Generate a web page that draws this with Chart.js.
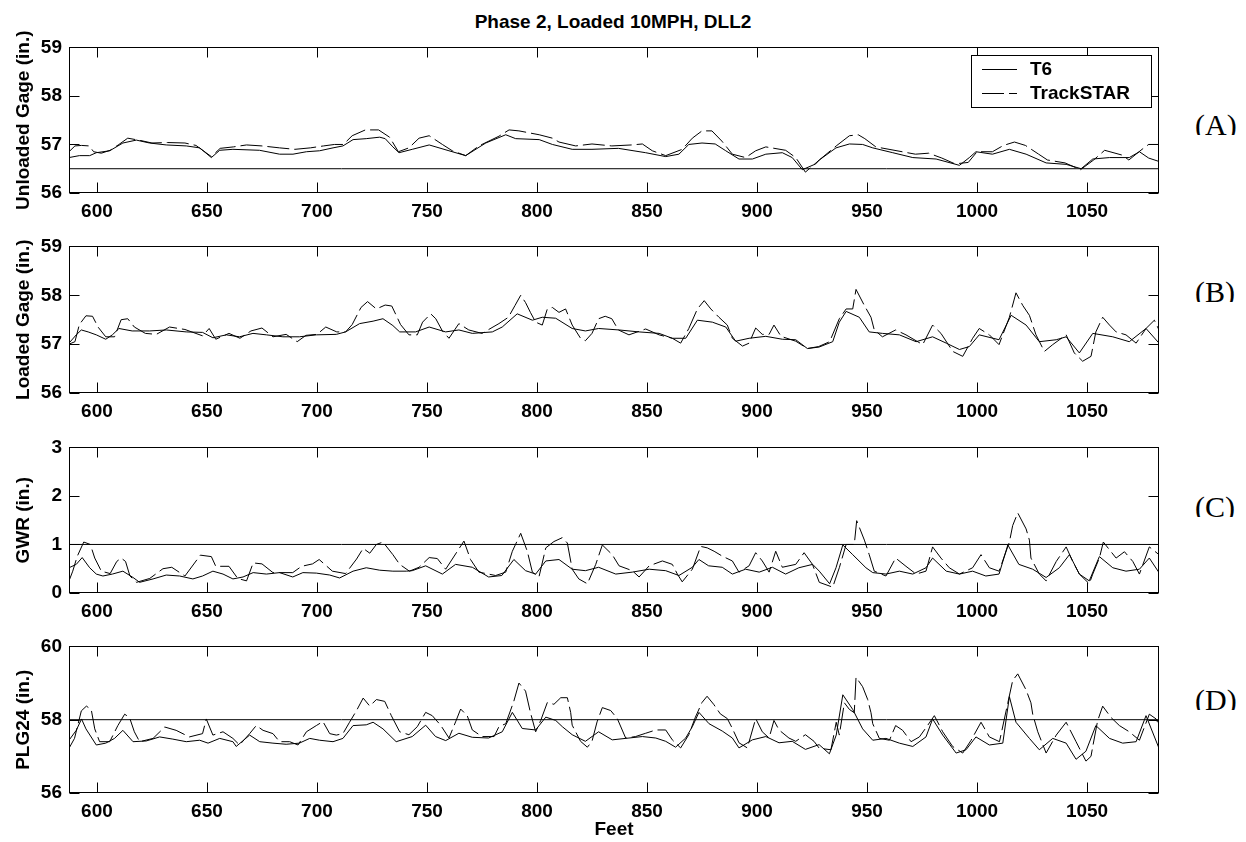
<!DOCTYPE html>
<html>
<head>
<meta charset="utf-8">
<title>Phase 2, Loaded 10MPH, DLL2</title>
<script src="https://cdn.jsdelivr.net/npm/chart.js@4.4.1/dist/chart.umd.min.js"></script>
<style>
  html, body { margin: 0; padding: 0; background: #fff; }
  #page { position: relative; width: 1246px; height: 842px; overflow: hidden; }
  #page canvas { position: absolute; left: 0; }
  .title { position: absolute; left: 0; top: 11px; width: 1226px; text-align: center;
           font: bold 19px "Liberation Sans", Arial, sans-serif; color: #000; }
  .tag { position: absolute; left: 1195px; height: 25px; overflow: hidden;
         font: 30px/30px "Liberation Serif", "Times New Roman", serif; color: #000; }
</style>
</head>
<body>
<div id="page">
  <div class="title">Phase 2, Loaded 10MPH, DLL2</div>
  <div class="tag" style="top:110px">(A)</div>
  <div class="tag" style="top:277px">(B)</div>
  <div class="tag" style="top:492px">(C)</div>
  <div class="tag" style="top:685px">(D)</div>
</div>
<script>
// ─── Data: [feet, value] ─────────────────────────────────────────────────────
const seriesNames = ["T6", "TrackSTAR"];
const feetTicks   = [600, 650, 700, 750, 800, 850, 900, 950, 1000, 1050];
const feetRange   = [587.3, 1082.7];

const unloadedTicks = [56, 57, 58, 59];
const loadedTicks   = [56, 57, 58, 59];
const gwrTicks      = [0, 1, 2, 3];
const plgTicks      = [56, 58, 60];

const unloadedLimit = 56.5;
const gwrLimit      = 1;
const plgLimit      = 58;

const unloadedT6 = [[587.3,56.73],[592,56.77],[596.7,56.77],[599.7,56.83],[605.8,56.87],[611.8,57.03],[617.9,57.09],[623.9,57.03],[631.5,56.99],[640.6,56.97],[646.7,56.93],[652,56.73],[655.8,56.88],[661.8,56.9],[673.9,56.88],[683,56.8],[689.1,56.8],[695.2,56.85],[701.2,56.87],[707.3,56.93],[711.8,56.97],[716.4,57.1],[722.4,57.12],[728.5,57.15],[731,57.12],[734.5,56.95],[737.3,56.83],[743.3,56.9],[751,56.99],[760,56.87],[767.6,56.77],[776.7,57.03],[785.8,57.2],[790.3,57.12],[801,57.1],[807,57.0],[816,56.9],[825,56.9],[837,56.92],[849.4,56.83],[858.5,56.75],[864.5,56.8],[869,57.0],[875,57.03],[881,57.01],[885.8,56.87],[891.8,56.7],[897.9,56.7],[904,56.8],[911.5,56.83],[916,56.73],[920.6,56.48],[926.7,56.6],[928.3,56.68],[935.9,56.93],[942,57.01],[948,57.0],[952.6,56.93],[961.7,56.83],[970.8,56.73],[981.4,56.7],[992,56.57],[996.5,56.73],[999.5,56.85],[1007,56.8],[1014.7,56.9],[1022.3,56.8],[1031.4,56.62],[1040.5,56.59],[1047.3,56.5],[1052.6,56.7],[1060.2,56.73],[1069.2,56.73],[1073.8,56.85],[1078,56.72],[1082.7,56.65]];
const unloadedTS = [[587.3,56.85],[590,56.97],[593,56.98],[596.5,56.97],[598.5,56.85],[602,56.82],[606,56.88],[610,57.0],[614,57.13],[620,57.08],[625,57.03],[632,57.04],[640,57.03],[645,56.98],[652,56.75],[656,56.92],[662,56.95],[668,56.99],[675,56.97],[683,56.93],[690,56.9],[697,56.93],[703,56.97],[708,57.0],[712,57.0],[716,57.18],[722,57.3],[728,57.3],[733,57.15],[737,56.85],[741.8,56.93],[746.4,57.13],[751,57.18],[757,57.0],[761.5,56.87],[767.6,56.77],[773.6,56.97],[782.7,57.17],[787.3,57.3],[791.8,57.28],[801,57.2],[807,57.13],[810,57.05],[817.6,56.97],[825,57.01],[834,56.97],[843,56.99],[847.9,57.01],[852.4,56.87],[858.5,56.77],[866,56.9],[870.6,57.13],[875,57.28],[879.5,57.28],[884,57.07],[888.8,56.8],[894.8,56.73],[899.4,56.87],[904,56.95],[913,56.88],[917.6,56.73],[922,56.43],[928.3,56.68],[936,56.97],[942,57.18],[946,57.2],[949,57.12],[954,56.95],[960,56.9],[966,56.85],[972,56.8],[978,56.82],[984,56.72],[990,56.6],[996,56.63],[1000,56.85],[1007,56.85],[1012,56.98],[1017,57.05],[1022,56.98],[1028,56.8],[1032,56.68],[1040,56.62],[1047,56.48],[1053,56.68],[1058,56.88],[1066,56.78],[1069,56.68],[1075,56.9],[1078,57.0],[1082.7,57.0]];

const loadedT6 = [[587.3,57.02],[590.6,57.19],[592.9,57.29],[596,57.25],[599.7,57.19],[604,57.1],[607,57.19],[610,57.32],[616,57.27],[624,57.27],[631.5,57.29],[640.6,57.25],[648,57.24],[652.7,57.13],[658.8,57.19],[664.8,57.15],[670.9,57.22],[677,57.19],[684.5,57.15],[692,57.15],[699.7,57.19],[708.8,57.2],[713,57.25],[719.4,57.42],[725.5,57.47],[730,57.52],[734.5,57.38],[737.6,57.25],[744.8,57.25],[751,57.35],[758.5,57.25],[764.5,57.29],[770.6,57.22],[779.7,57.25],[784.2,57.35],[791,57.62],[797.9,57.49],[802.4,57.55],[808.5,57.53],[816,57.32],[822,57.27],[828,57.32],[837.3,57.29],[846.4,57.25],[855.5,57.22],[861.5,57.12],[867.6,57.12],[872.9,57.49],[879.7,57.45],[885.8,57.35],[890.3,57.06],[896.4,57.12],[904,57.16],[911.5,57.1],[917.6,57.09],[922.9,56.91],[928.2,56.94],[934.4,57.05],[937.4,57.45],[940.5,57.67],[946.5,57.55],[951,57.25],[957,57.22],[964.7,57.19],[972.3,57.05],[979.8,57.15],[986,57.02],[992,56.89],[996.5,56.95],[1001,57.19],[1010,57.09],[1015.5,57.59],[1022.3,57.39],[1028.3,57.05],[1036,57.09],[1040.5,57.15],[1046.5,56.82],[1052.6,57.22],[1061.7,57.15],[1069.2,57.05],[1076.8,57.32],[1082.7,57.02]];
const loadedTS = [[587.3,57.0],[590,57.05],[592,57.4],[595,57.58],[598,57.57],[600.5,57.35],[604,57.15],[608,57.15],[611,57.5],[614,57.52],[617,57.35],[622,57.22],[627,57.2],[633,57.35],[640,57.3],[648,57.17],[651,57.32],[654,57.1],[660,57.22],[665,57.12],[670,57.27],[675,57.33],[680,57.15],[686,57.2],[691,57.05],[695,57.18],[700,57.2],[704,57.35],[709,57.25],[713,57.25],[716,57.4],[720,57.75],[723,57.87],[727,57.72],[731,57.8],[734,57.78],[738,57.4],[741.8,57.19],[745.6,57.19],[748,57.45],[751.7,57.62],[754,57.52],[757,57.27],[760,57.12],[764.5,57.42],[769,57.29],[775,57.22],[782.7,57.42],[787,57.55],[790,57.79],[792.6,58.0],[794.8,57.85],[797,57.65],[799.4,57.45],[802.4,57.39],[804.7,57.72],[807,57.75],[810,57.65],[813,57.72],[816,57.39],[819.8,57.12],[822,57.07],[825,57.22],[828,57.52],[831,57.57],[834,57.52],[837,57.29],[841.8,57.19],[849.4,57.31],[855.5,57.19],[861.5,57.12],[865.3,57.02],[869,57.32],[872.9,57.72],[876,57.89],[879,57.72],[882.7,57.55],[886.5,57.39],[888.8,57.12],[893.4,56.96],[896.4,57.02],[899.4,57.33],[902.4,57.2],[905.5,57.2],[907.7,57.39],[910.9,57.16],[917.6,57.06],[922.9,56.91],[928,56.95],[933,57.05],[937.4,57.52],[940.5,57.72],[943.5,57.72],[945,58.12],[948.8,57.79],[951.8,57.55],[953.3,57.29],[957,57.15],[963,57.29],[967.7,57.19],[975.3,56.99],[979.8,57.39],[983.6,57.22],[989,56.85],[993.5,56.75],[998,57.12],[1001,57.32],[1005.6,57.19],[1010,56.99],[1014.7,57.55],[1017.7,58.05],[1020.8,57.79],[1023.8,57.59],[1026.8,57.19],[1030.6,56.85],[1034.4,56.99],[1040.5,57.19],[1044.2,56.82],[1048,56.65],[1051.8,56.75],[1054,57.25],[1057.1,57.55],[1060.2,57.39],[1063.2,57.25],[1067.7,57.19],[1072.3,57.02],[1076.8,57.32],[1080.6,57.49],[1082.7,57.29]];

const gwrT6 = [[587.3,0.52],[590.6,0.59],[593.3,0.73],[596.7,0.52],[599.7,0.39],[602.7,0.35],[607,0.39],[611.8,0.45],[616.4,0.32],[619.4,0.22],[625.5,0.29],[631.5,0.37],[637.6,0.35],[643.6,0.29],[648,0.35],[652.7,0.45],[657.3,0.39],[661.8,0.29],[666.4,0.33],[671,0.42],[677,0.39],[683,0.42],[689,0.33],[693.6,0.42],[699.7,0.41],[705.8,0.37],[710.3,0.31],[716.4,0.45],[722.4,0.52],[728.5,0.47],[734.5,0.45],[740.6,0.45],[743.3,0.46],[749.4,0.56],[757,0.39],[763,0.59],[770.6,0.53],[778,0.33],[784,0.36],[789.5,0.69],[794.8,0.46],[799.4,0.39],[804,0.66],[810,0.69],[816,0.49],[822,0.46],[828,0.53],[835.8,0.39],[843.3,0.43],[851,0.49],[858.5,0.46],[864.5,0.36],[870.6,0.53],[873.6,0.69],[878,0.56],[884.2,0.53],[888.8,0.39],[894.8,0.49],[901,0.43],[907,0.53],[913,0.39],[919,0.52],[925.3,0.59],[928.3,0.45],[933,0.19],[935.9,0.52],[939,0.99],[943.5,0.79],[949.5,0.52],[952.6,0.42],[958.6,0.39],[964.7,0.45],[970.8,0.39],[976.8,0.52],[979.8,0.72],[986,0.45],[992,0.39],[998,0.45],[1004,0.35],[1010,0.39],[1014,0.99],[1019,0.59],[1025.3,0.49],[1031.4,0.32],[1037.4,0.52],[1042,0.79],[1046.5,0.39],[1051,0.25],[1055.6,0.75],[1061.7,0.52],[1067.7,0.45],[1073.8,0.49],[1078.3,0.72],[1082.7,0.42]];
const gwrTS = [[587.3,0.25],[589,0.45],[591,0.75],[594,1.05],[597,1.0],[599,0.72],[602,0.45],[606,0.4],[609,0.65],[611,0.72],[613,0.65],[615,0.35],[618,0.22],[624,0.3],[630,0.5],[634,0.53],[640,0.35],[647,0.78],[652,0.75],[654,0.55],[660,0.55],[664,0.3],[668,0.25],[671,0.62],[675,0.6],[680,0.42],[689,0.42],[693,0.55],[698,0.6],[701,0.69],[707,0.45],[713,0.4],[718,0.7],[721,0.92],[724,0.82],[727,1.0],[730,1.05],[734.5,0.79],[737.6,0.59],[742,0.45],[746.4,0.53],[751,0.73],[754.7,0.71],[758.5,0.49],[763.8,0.86],[766.8,1.07],[769.8,0.69],[773.6,0.43],[781.2,0.36],[785.8,0.43],[788.8,0.86],[792.6,1.23],[795.6,0.86],[797.9,0.43],[800.9,0.33],[804,0.93],[807.7,1.06],[811.5,1.14],[813.8,1.03],[816,0.49],[819,0.29],[822.9,0.19],[826.7,0.59],[829.7,0.99],[834.2,0.79],[837.3,0.56],[843.3,0.46],[846.4,0.33],[851,0.56],[857,0.66],[861.5,0.59],[863.8,0.39],[866,0.23],[870.6,0.49],[874.4,0.96],[877.4,0.93],[880.5,0.86],[884.2,0.76],[888.8,0.66],[891.8,0.43],[896.4,0.56],[899.4,0.83],[902.4,0.66],[905.5,0.43],[908.5,0.86],[911.5,0.53],[917.6,0.59],[921.4,0.83],[925.2,0.59],[928.3,0.22],[934.4,0.12],[937.4,0.52],[940.5,1.0],[944.2,1.0],[945.3,1.49],[948.8,1.09],[951,0.79],[953.3,0.45],[958.6,0.35],[963,0.72],[967.7,0.55],[972.3,0.39],[976.8,0.45],[979.8,0.95],[983.6,0.72],[987.4,0.52],[992,0.39],[998,0.52],[1001.8,0.79],[1005.6,0.52],[1010,0.45],[1014.7,1.05],[1016.2,1.39],[1018.5,1.65],[1022.3,1.32],[1023.8,1.09],[1024.5,0.72],[1028.3,0.39],[1031.4,0.25],[1036,0.65],[1040.5,0.95],[1043.5,0.65],[1046.5,0.39],[1051,0.19],[1052.6,0.39],[1055.6,0.72],[1057.4,1.05],[1060.2,0.89],[1063.2,0.72],[1067,0.85],[1070.8,0.65],[1073.8,0.39],[1078.3,0.95],[1082.7,0.79]];

const plgT6 = [[587.3,57.44],[590.6,57.71],[593,58.02],[595,57.75],[599.7,57.31],[604,57.36],[608,57.49],[611.8,57.71],[616.4,57.4],[622.4,57.42],[628.5,57.53],[634.5,57.47],[640.6,57.4],[646.7,57.44],[650.5,57.36],[655.8,57.49],[661.8,57.4],[663.3,57.27],[669.4,57.58],[674,57.4],[680,57.36],[686,57.33],[692,57.36],[696.7,57.49],[701.2,57.44],[707.3,57.4],[711.8,57.49],[716.4,57.84],[722.4,57.86],[725.5,57.93],[730,57.75],[736,57.4],[743.3,57.54],[749.4,57.85],[753.9,57.54],[758.5,57.43],[764.5,57.63],[770.6,57.52],[778,57.5],[784.2,57.67],[788.8,58.2],[793.3,57.76],[799.4,57.72],[804,58.07],[808.5,57.98],[811.5,57.81],[816,57.59],[822,57.41],[828,57.67],[834.2,57.45],[841.8,57.5],[847.9,57.54],[854,57.5],[858.5,57.41],[863,57.25],[867.6,57.5],[870.6,57.81],[873.6,58.2],[878.2,57.89],[884.2,57.69],[888.8,57.5],[891.8,57.23],[897.9,57.45],[904,57.54],[910,57.37],[916,57.41],[922,57.19],[928.2,57.32],[932.9,57.07],[936,57.58],[939,58.68],[943.5,58.28],[948,57.75],[952.6,57.44],[958.6,57.49],[964.7,57.36],[970.8,57.27],[976.8,57.53],[979.8,58.02],[984.4,57.58],[990.5,57.09],[995,57.18],[999.5,57.53],[1005.6,57.31],[1011.7,57.36],[1014.7,58.63],[1017.7,57.93],[1023.8,57.49],[1028.3,57.18],[1034.4,57.49],[1040.5,57.36],[1045,56.92],[1049.5,57.14],[1054,57.84],[1060.2,57.49],[1066.2,57.36],[1072.3,57.4],[1076.8,58.11],[1082.7,57.22]];
const plgTS = [[587.3,57.22],[589.8,57.49],[592.9,58.24],[595.2,58.37],[597.4,58.28],[599,57.75],[601.2,57.4],[605.8,57.4],[609.5,57.84],[612.6,58.15],[614.8,58.06],[617,57.67],[619.4,57.4],[625.5,57.49],[630.8,57.8],[636,57.71],[642,57.53],[648,57.62],[649.7,58.02],[652.7,57.58],[657.3,57.67],[661.8,57.49],[664.8,57.31],[669.4,57.62],[672.4,57.84],[675.5,57.71],[680,57.62],[683,57.4],[687.6,57.4],[691.4,57.31],[695.2,57.67],[699.7,57.84],[702.7,57.95],[705.8,57.62],[708.8,57.58],[711.8,57.62],[714.8,57.93],[717.9,58.24],[721,58.59],[724,58.37],[727,58.55],[730.8,58.5],[733.8,58.11],[737.6,57.67],[741.8,57.59],[745.6,57.81],[749.4,58.2],[752.4,58.11],[756.2,57.85],[760,57.5],[763,57.94],[765.3,58.29],[768.3,58.11],[770.6,57.72],[775,57.54],[780.5,57.54],[782.7,57.81],[785.8,57.89],[789.5,58.51],[791.8,59.0],[794.8,58.78],[797,58.2],[799.4,57.67],[801.7,57.98],[804.7,58.47],[807.7,58.42],[810.8,58.6],[813.8,58.6],[815.3,58.2],[816,57.85],[819.8,57.41],[822.9,57.25],[825,57.41],[827.3,57.94],[829.7,58.33],[833.5,58.25],[836.5,58.03],[840.3,57.5],[844.8,57.54],[849.4,57.63],[854,57.72],[858.5,57.72],[861.5,57.45],[865.3,57.23],[869,57.59],[872,58.07],[875,58.47],[877.3,58.64],[880.3,58.42],[883.3,58.16],[886.5,58.03],[888.8,57.76],[891.8,57.37],[895.6,57.23],[899.4,58.03],[902.4,57.67],[905.5,57.5],[907.7,57.98],[910,57.72],[914.5,57.5],[917.6,57.41],[922,57.59],[925.9,57.41],[928.3,57.22],[933.6,57.18],[936,57.93],[937.4,57.58],[939.7,58.46],[942,58.28],[944.2,58.19],[945,59.16],[948,58.9],[950.3,58.55],[951.8,58.19],[952.6,57.89],[955.6,57.49],[960.2,57.44],[963,57.84],[966.2,57.71],[970,57.4],[973.8,57.53],[977.5,57.84],[980.6,58.11],[984.4,57.67],[988.9,57.27],[993.5,57.09],[997.3,57.44],[1001.8,57.93],[1005.6,57.53],[1010.2,57.4],[1014,58.46],[1016.2,59.07],[1018.5,59.25],[1022.3,58.81],[1024.5,58.46],[1025.3,58.15],[1027.6,57.67],[1031.4,57.09],[1036,57.58],[1040.5,57.93],[1045,57.4],[1049.5,56.87],[1051.8,57.0],[1052.6,57.27],[1054.8,57.97],[1057.1,58.37],[1060.9,58.06],[1064.7,57.84],[1069.2,57.67],[1073.8,57.44],[1078.3,58.15],[1081.4,58.02],[1082.7,57.84]];

// ─── Layout / style ──────────────────────────────────────────────────────────
const PAGE_W     = 1246;
const PAGE_H     = 842;
const PLOT_LEFT  = 69;
const PLOT_RIGHT = 1159;
const PAD_TOP    = 14;
const TICK_LEN   = 10;
const DASH       = [22, 5];
const FONT       = { family: "'Liberation Sans', Arial, sans-serif", size: 19, weight: "bold" };

const toXY = pts => pts.map(([x, y]) => ({ x, y }));

// MATLAB-style box with inward ticks on all four sides
const boxTicks = {
    id: "boxTicks",
    afterDatasetsDraw(chart) {
        const { ctx, chartArea: a, scales: { x, y } } = chart;
        const l = Math.round(a.left) + 0.5, r = Math.round(a.right) - 0.5;
        const t = Math.round(a.top) + 0.5,  b = Math.round(a.bottom) - 0.5;
        ctx.save();
        ctx.strokeStyle = "#000";
        ctx.lineWidth = 1;
        ctx.beginPath();
        x.ticks.forEach(tk => {
            const px = Math.round(x.getPixelForValue(tk.value)) + 0.5;
            ctx.moveTo(px, b); ctx.lineTo(px, b - TICK_LEN);
            ctx.moveTo(px, t); ctx.lineTo(px, t + TICK_LEN);
        });
        y.ticks.forEach(tk => {
            const py = Math.round(y.getPixelForValue(tk.value)) + 0.5;
            ctx.moveTo(l, py); ctx.lineTo(l + TICK_LEN, py);
            ctx.moveTo(r, py); ctx.lineTo(r - TICK_LEN, py);
        });
        ctx.stroke();
        ctx.strokeRect(l, t, r - l, b - t);
        ctx.restore();
    },
};

// boxed legend in the upper-right corner of the first panel
const cornerLegend = {
    id: "cornerLegend",
    afterDraw(chart) {
        if (!chart.options.plugins.cornerLegend?.show) return;
        const { ctx, chartArea: a } = chart;
        const items = chart.data.datasets.filter(d => seriesNames.includes(d.label));
        const w = 180, h = 52;
        const x0 = Math.round(a.right) - 8 - w, y0 = Math.round(a.top) + 8;
        ctx.save();
        ctx.fillStyle = "#fff";
        ctx.fillRect(x0, y0, w, h);
        ctx.strokeStyle = "#000";
        ctx.lineWidth = 1;
        ctx.strokeRect(x0 + 0.5, y0 + 0.5, w, h);
        ctx.font = `bold ${FONT.size}px ${FONT.family}`;
        ctx.fillStyle = "#000";
        ctx.textBaseline = "middle";
        items.forEach((d, i) => {
            const ly = y0 + 14 + i * 24 + 0.5;
            ctx.setLineDash(d.borderDash || []);
            ctx.beginPath();
            ctx.moveTo(x0 + 11, ly);
            ctx.lineTo(x0 + 46, ly);
            ctx.stroke();
            ctx.setLineDash([]);
            ctx.fillText(d.label, x0 + 59, ly);
        });
        ctx.restore();
    },
};

function makePanel(p) {
    const page   = document.getElementById("page");
    const canvas = document.createElement("canvas");
    const axisH  = p.xTitle ? PAGE_H - p.bottom : 37;
    canvas.width  = PAGE_W;
    canvas.height = PAD_TOP + (p.bottom - p.top) + axisH;
    canvas.style.top = (p.top - PAD_TOP) + "px";
    page.appendChild(canvas);

    const datasets = [
        { label: seriesNames[0], data: toXY(p.t6), borderDash: [] },
        { label: seriesNames[1], data: toXY(p.ts), borderDash: DASH },
    ];
    if (p.limit !== undefined) {
        datasets.push({ label: "limit", data: toXY([[feetRange[0], p.limit], [feetRange[1], p.limit]]), borderDash: [] });
    }

    new Chart(canvas, {
        type: "line",
        data: { datasets: datasets.map(d => Object.assign({
            borderColor: "#000", borderWidth: 1, pointRadius: 0, tension: 0, fill: false,
        }, d)) },
        options: {
            responsive: false,
            animation: false,
            devicePixelRatio: 1,
            layout: { padding: { top: PAD_TOP, right: PAGE_W - PLOT_RIGHT, left: 0, bottom: 0 } },
            plugins: {
                legend: { display: false },
                tooltip: { enabled: false },
                cornerLegend: { show: !!p.legend },
            },
            scales: {
                x: {
                    type: "linear",
                    min: feetRange[0], max: feetRange[1],
                    afterBuildTicks: s => { s.ticks = feetTicks.map(v => ({ value: v })); },
                    afterFit: s => { s.height = axisH; },
                    grid: { display: false, drawTicks: false },
                    border: { display: false },
                    ticks: { font: FONT, color: "#000", padding: 7, maxRotation: 0, callback: v => String(v) },
                    title: {
                        display: !!p.xTitle, text: p.xTitle || "",
                        font: FONT, color: "#000", padding: { top: 0, bottom: 1 },
                    },
                },
                y: {
                    min: p.ticks[0], max: p.ticks[p.ticks.length - 1],
                    afterBuildTicks: s => { s.ticks = p.ticks.map(v => ({ value: v })); },
                    afterFit: s => { s.width = PLOT_LEFT; },
                    grid: { display: false, drawTicks: false },
                    border: { display: false },
                    ticks: { font: FONT, color: "#000", padding: 7, callback: v => String(v) },
                    title: {
                        display: true, text: p.yTitle,
                        font: FONT, color: "#000", padding: { top: 12, bottom: 0 },
                    },
                },
            },
        },
        plugins: [boxTicks, cornerLegend],
    });
}

makePanel({ top: 43,  bottom: 193, yTitle: "Unloaded Gage (in.)", ticks: unloadedTicks,
            t6: unloadedT6, ts: unloadedTS, limit: unloadedLimit, legend: true });
makePanel({ top: 242, bottom: 393, yTitle: "Loaded Gage (in.)", ticks: loadedTicks,
            t6: loadedT6, ts: loadedTS });
makePanel({ top: 443, bottom: 593, yTitle: "GWR (in.)", ticks: gwrTicks,
            t6: gwrT6, ts: gwrTS, limit: gwrLimit });
makePanel({ top: 642, bottom: 793, yTitle: "PLG24 (in.)", ticks: plgTicks,
            t6: plgT6, ts: plgTS, limit: plgLimit, xTitle: "Feet" });
</script>
</body>
</html>
